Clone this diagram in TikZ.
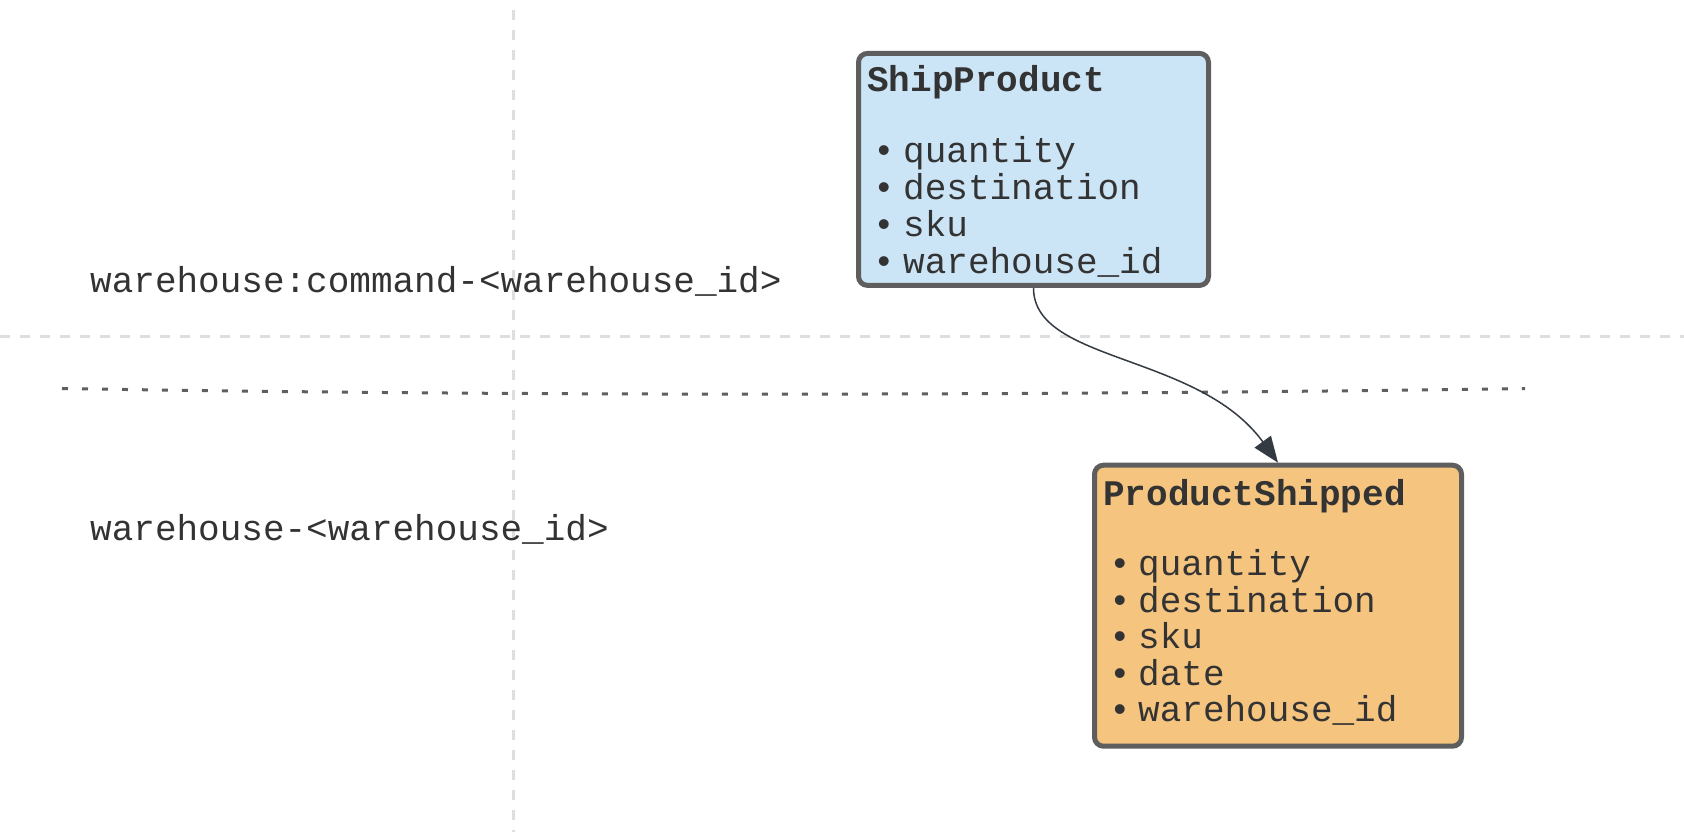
\documentclass[tikz,border=0pt]{standalone}
\usepackage{fontspec}
\setmainfont{Liberation Mono}
\usetikzlibrary{arrows.meta}
\definecolor{txt}{HTML}{333333}
\definecolor{guide}{HTML}{DEDEDE}
\definecolor{dotline}{HTML}{5F5F5F}
\definecolor{boxedge}{HTML}{5E5E5E}
\definecolor{bluefill}{HTML}{CBE4F6}
\definecolor{orangefill}{HTML}{F5C47F}
\definecolor{conn}{HTML}{333A42}
\tikzset{
  guideline/.style={guide, line width=3pt, dash pattern=on 10pt off 10pt},
  laneline/.style={dotline, line width=3pt, dash pattern=on 6pt off 14pt},
  evbox/.style={draw=boxedge, line width=5pt, rounded corners=9pt, inner sep=0pt},
  txtnode/.style={anchor=base west, inner sep=0pt, text=txt, font=\fontsize{36}{43}\selectfont},
  titlenode/.style={txtnode, font=\fontsize{36}{43}\selectfont\bfseries},
  bulletnode/.style={anchor=base, inner sep=0pt, text=txt, font=\fontsize{36}{43}\selectfont},
  connector/.style={conn, line width=1.5pt, -{Triangle[length=26pt, width=20pt]}}
}
\begin{document}
\begin{tikzpicture}[x=1pt, y=-1pt]
\useasboundingbox (0,0) rectangle (1684,832);
% guide lines
\draw[guideline] (513.5,10) -- (513.5,832);
\draw[guideline] (0,336) -- (1684,336);
\draw[laneline] (62,388.5) .. controls (520,396) and (1000,396) .. (1525,388.5);
% lane labels
\node[txtnode] (lane1) at (90,292) {warehouse:command-<warehouse\_id>};
\node[txtnode] (lane2) at (90,540) {warehouse-<warehouse\_id>};
% command box
\node[evbox, fill=bluefill, minimum width=350pt, minimum height=232pt] (ship) at (1033.5,169.4) {};
\node[titlenode] (shipT) at (867,92) {ShipProduct};
\node[bulletnode] (shipB1) at (884,162.5) {•};
\node[txtnode] (shipI1) at (903,162.5) {quantity};
\node[bulletnode] (shipB2) at (884,199.5) {•};
\node[txtnode] (shipI2) at (903,199.5) {destination};
\node[bulletnode] (shipB3) at (884,236.5) {•};
\node[txtnode] (shipI3) at (903,236.5) {sku};
\node[bulletnode] (shipB4) at (884,273.5) {•};
\node[txtnode] (shipI4) at (903,273.5) {warehouse\_id};
% event box
\node[evbox, fill=orangefill, minimum width=367pt, minimum height=281pt] (shipped) at (1278,605.7) {};
\node[titlenode] (shippedT) at (1103,505) {ProductShipped};
\node[bulletnode] (shippedB1) at (1120,575.5) {•};
\node[txtnode] (shippedI1) at (1138,575.5) {quantity};
\node[bulletnode] (shippedB2) at (1120,612) {•};
\node[txtnode] (shippedI2) at (1138,612) {destination};
\node[bulletnode] (shippedB3) at (1120,648.5) {•};
\node[txtnode] (shippedI3) at (1138,648.5) {sku};
\node[bulletnode] (shippedB4) at (1120,685) {•};
\node[txtnode] (shippedI4) at (1138,685) {date};
\node[bulletnode] (shippedB5) at (1120,721.5) {•};
\node[txtnode] (shippedI5) at (1138,721.5) {warehouse\_id};
% connector
\draw[connector] (ship.south) .. controls +(0,75) and +(-80,-110) .. (shipped.north);
\end{tikzpicture}
\end{document}
